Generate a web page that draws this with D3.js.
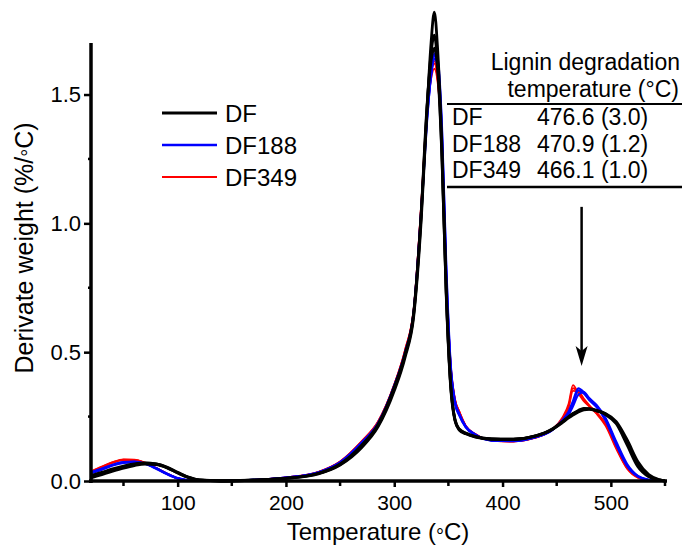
<!DOCTYPE html>
<html>
<head>
	<meta charset="utf-8">
	<script src="https://d3js.org/d3.v7.min.js"></script>
	<title>Derivate weight</title>
	<style type="text/css">
		body { margin: 0; background: #fff; }
		text { font-family: "Liberation Sans", Arial, sans-serif; fill: #000; }
	</style>
</head>
<body>
	<div id="chart"></div>
	<script type="text/javascript">
	// temperature grid (°C)
	var temps = [20,30,40,50,60,70,80,90,100,110,
		120,140,170,200,230,250,270,285,300,310,
		318,325,330,334,337,340,344,348,352,356,
		360,366,375,390,410,430,445,455,461,465,
		470,475,480,487,495,505,515,525,535,545,550];

	// derivate weight (%/°C), three runs per sample
	var df = [
		[.012,.025,.038,.05,.06,.066,.064,.052,.032,.014,
		 .004,0,.003,.01,.028,.062,.13,.21,.35,.48,
		 .64,1.02,1.42,1.70,1.82,1.68,1.30,.74,.38,.24,
		 .20,.185,.172,.163,.162,.175,.198,.228,.248,.26,
		 .272,.28,.28,.272,.258,.222,.14,.055,.016,.003,0],
		[.018,.03,.043,.055,.064,.069,.066,.054,.034,.015,
		 .004,.001,.003,.01,.029,.064,.135,.215,.36,.49,
		 .65,1.04,1.43,1.66,1.73,1.62,1.27,.72,.37,.235,
		 .198,.183,.17,.162,.161,.174,.2,.23,.25,.262,
		 .274,.282,.281,.274,.26,.226,.15,.065,.02,.004,0],
		[.022,.034,.047,.058,.066,.07,.066,.052,.031,.013,
		 .003,0,.004,.011,.03,.066,.14,.22,.365,.495,
		 .655,1.05,1.44,1.63,1.68,1.60,1.26,.73,.38,.24,
		 .202,.186,.172,.163,.162,.174,.198,.226,.245,.256,
		 .268,.276,.278,.272,.262,.23,.16,.075,.025,.005,0]
	];
	var df188 = [
		[.032,.046,.062,.072,.074,.066,.048,.027,.01,.002,
		 0,0,.004,.013,.034,.073,.15,.225,.37,.50,
		 .66,1.06,1.40,1.58,1.66,1.63,1.36,.82,.45,.31,
		 .26,.21,.18,.158,.156,.17,.195,.235,.27,.31,
		 .36,.345,.318,.29,.24,.145,.06,.018,.004,0,0],
		[.03,.044,.06,.07,.073,.067,.05,.029,.011,.003,
		 0,0,.004,.013,.033,.072,.148,.222,.368,.497,
		 .655,1.05,1.39,1.57,1.64,1.61,1.34,.80,.44,.30,
		 .255,.208,.178,.157,.155,.169,.196,.232,.262,.30,
		 .352,.34,.314,.286,.236,.14,.058,.017,.004,0,0],
		[.034,.048,.063,.073,.075,.068,.05,.028,.01,.002,
		 0,0,.004,.012,.032,.07,.146,.22,.366,.494,
		 .65,1.04,1.38,1.58,1.65,1.64,1.38,.84,.46,.31,
		 .26,.212,.18,.158,.156,.17,.197,.232,.258,.29,
		 .335,.345,.322,.294,.245,.152,.066,.02,.005,0,0]
	];
	var df349 = [
		[.036,.055,.072,.083,.082,.07,.05,.028,.01,.002,
		 0,0,.004,.014,.036,.076,.155,.23,.375,.51,
		 .67,1.08,1.42,1.58,1.62,1.56,1.32,.80,.46,.32,
		 .27,.215,.182,.158,.154,.168,.198,.245,.30,.372,
		 .34,.31,.29,.26,.215,.125,.048,.013,.003,0,0],
		[.034,.053,.07,.081,.081,.07,.05,.029,.011,.002,
		 0,0,.004,.014,.035,.075,.153,.228,.372,.505,
		 .665,1.07,1.41,1.56,1.60,1.55,1.31,.79,.45,.315,
		 .268,.213,.18,.157,.153,.167,.197,.24,.29,.36,
		 .345,.315,.292,.262,.22,.13,.05,.014,.003,0,0],
		[.038,.056,.073,.084,.083,.071,.051,.029,.01,.002,
		 0,0,.004,.013,.035,.075,.154,.23,.374,.508,
		 .668,1.08,1.43,1.59,1.63,1.57,1.33,.81,.455,.318,
		 .27,.214,.181,.158,.154,.168,.196,.238,.285,.35,
		 .348,.32,.295,.265,.224,.135,.053,.015,.003,0,0]
	];

	var sampleNames = ["DF", "DF188", "DF349"];
	var sampleColors = ["#000000", "#0000ff", "#ff0000"];
	var sampleWidths = [2.8, 2.2, 1.8];

	var tableNames = ["DF", "DF188", "DF349"];
	var tableValues = ["476.6 (3.0)", "470.9 (1.2)", "466.1 (1.0)"];

	var xTicks = [100, 200, 300, 400, 500];
	var xMinor = [50, 150, 250, 350, 450, 550];
	var yTicks = [0, 0.5, 1.0, 1.5];
	var yMinor = [0.25, 0.75, 1.25];

	var width = 682, height = 548;
	var svg = d3.select("#chart").append("svg")
		.attr("width", width)
		.attr("height", height);

	var x = d3.scaleLinear().domain([20, 550]).range([91, 665]);
	var y = d3.scaleLinear().domain([0, 1.7]).range([481, 43]);

	var line = d3.line()
		.x(function(d) { return x(d[0]); })
		.y(function(d) { return y(d[1]); })
		.curve(d3.curveMonotoneX);

	// curves: red, blue, then black on top
	var sets = [df349, df188, df];
	var setIdx = [2, 1, 0];
	sets.forEach(function(runs, k) {
		var i = setIdx[k];
		runs.forEach(function(vals) {
			svg.append("path")
				.datum(temps.map(function(t, j) { return [t, vals[j]]; }))
				.attr("d", line)
				.attr("fill", "none")
				.attr("stroke", sampleColors[i])
				.attr("stroke-width", sampleWidths[i])
				.attr("stroke-linejoin", "round");
		});
	});

	// axes
	var xAxis = svg.append("g").attr("transform", "translate(0," + y(0) + ")")
		.call(d3.axisBottom(x).tickValues(xTicks).tickSize(6).tickPadding(8));
	xAxis.select(".domain").remove();
	xAxis.append("g").selectAll("line").data(xMinor).enter().append("line")
		.attr("x1", function(d) { return x(d); }).attr("x2", function(d) { return x(d); })
		.attr("y1", 0).attr("y2", 5)
		.attr("stroke", "#000").attr("stroke-width", 2.5);
	xAxis.append("line").attr("x1", x(20) - 2).attr("x2", x(550) + 2)
		.attr("stroke", "#000").attr("stroke-width", 3.5);

	var yAxis = svg.append("g").attr("transform", "translate(" + x(20) + ",0)")
		.call(d3.axisLeft(y).tickValues(yTicks).tickSize(7).tickPadding(3).tickFormat(d3.format(".1f")));
	yAxis.select(".domain").remove();
	yAxis.append("g").selectAll("line").data(yMinor).enter().append("line")
		.attr("y1", function(d) { return y(d); }).attr("y2", function(d) { return y(d); })
		.attr("x1", 0).attr("x2", -3)
		.attr("stroke", "#000").attr("stroke-width", 2.5);
	yAxis.append("line").attr("y1", y(1.7)).attr("y2", y(0) + 2)
		.attr("stroke", "#000").attr("stroke-width", 3.5);

	svg.selectAll(".tick line").attr("stroke-width", 2.5);
	svg.selectAll(".tick text").style("font-size", "21px")
		.style("font-family", "'Liberation Sans', Arial, sans-serif");
	yAxis.selectAll(".tick text").style("font-size", "22px");

	// axis titles with a small mid-height degree ring
	function unitTitle(sel, before) {
		sel.append("tspan").text(before);
		sel.append("tspan").attr("dy", 3).style("font-size", "20px").text("°");
		sel.append("tspan").attr("dy", -3).text("C)");
	}
	unitTitle(svg.append("text")
		.attr("x", (x(20) + x(550)) / 2).attr("y", 540)
		.attr("text-anchor", "middle").style("font-size", "24px"), "Temperature (");
	unitTitle(svg.append("text")
		.attr("transform", "translate(33,248) rotate(-90)")
		.attr("text-anchor", "middle").style("font-size", "25px"), "Derivate weight (%/");

	// legend
	sampleNames.forEach(function(name, i) {
		var ly = 113 + i * 32;
		svg.append("line").attr("x1", 162).attr("x2", 217).attr("y1", ly).attr("y2", ly)
			.attr("stroke", sampleColors[i]).attr("stroke-width", sampleWidths[i] + 0.2);
		svg.append("text").attr("x", 225).attr("y", ly + 8.5)
			.style("font-size", "24px").text(name);
	});

	// table
	svg.append("text").attr("x", 680).attr("y", 70).attr("text-anchor", "end")
		.style("font-size", "23px").text("Lignin degradation");
	svg.append("text").attr("x", 679).attr("y", 97).attr("text-anchor", "end")
		.style("font-size", "23px").text("temperature (°C)");
	svg.append("line").attr("x1", 447).attr("x2", 682).attr("y1", 104).attr("y2", 104)
		.attr("stroke", "#000").attr("stroke-width", 2);
	tableNames.forEach(function(name, i) {
		var ty = 125 + i * 26.5;
		svg.append("text").attr("x", 452).attr("y", ty).style("font-size", "23px").text(name);
		svg.append("text").attr("x", 537).attr("y", ty).style("font-size", "23px").text(tableValues[i]);
	});
	svg.append("line").attr("x1", 447).attr("x2", 682).attr("y1", 187).attr("y2", 187)
		.attr("stroke", "#000").attr("stroke-width", 2.5);

	// arrow pointing at lignin peak
	var ax = x(473), ay0 = y(1.064), ay1 = y(0.446);
	svg.append("line").attr("x1", ax).attr("x2", ax).attr("y1", ay0).attr("y2", ay1 - 10)
		.attr("stroke", "#000").attr("stroke-width", 2.5);
	svg.append("path")
		.attr("d", "M" + ax + "," + ay1 + " L" + (ax - 6) + "," + (ay1 - 20) +
			" L" + ax + "," + (ay1 - 15) + " L" + (ax + 6) + "," + (ay1 - 20) + " Z")
		.attr("fill", "#000");
	</script>
</body>
</html>
